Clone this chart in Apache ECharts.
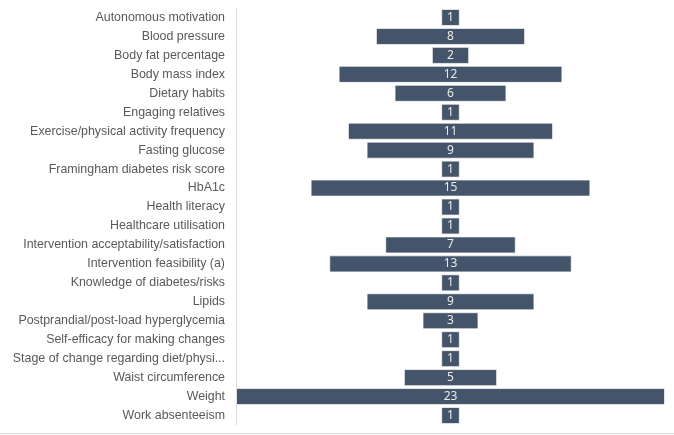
<!DOCTYPE html>
<html>
<head>
<meta charset="utf-8">
<script src="https://cdn.jsdelivr.net/npm/echarts@6/dist/echarts.min.js"></script>
<style>
html, body { margin: 0; padding: 0; background: #fff; }
#chart { width: 674px; height: 435px; }
</style>
</head>
<body>
<div id="chart"></div>
<script>
const categories = [
	'Autonomous motivation',
	'Blood pressure',
	'Body fat percentage',
	'Body mass index',
	'Dietary habits',
	'Engaging relatives',
	'Exercise/physical activity frequency',
	'Fasting glucose',
	'Framingham diabetes risk score',
	'HbA1c',
	'Health literacy',
	'Healthcare utilisation',
	'Intervention acceptability/satisfaction',
	'Intervention feasibility (a)',
	'Knowledge of diabetes/risks',
	'Lipids',
	'Postprandial/post-load hyperglycemia',
	'Self-efficacy for making changes',
	'Stage of change regarding diet/physical activity',
	'Waist circumference',
	'Weight',
	'Work absenteeism'
]
const counts = [1, 8, 2, 12, 6, 1, 11, 9, 1, 15, 1, 1, 7, 13, 1, 9, 3, 1, 1, 5, 23, 1]

const maxCount = Math.max(...counts)
// transparent offset so each bar sits centred
const offsets = counts.map(v => (maxCount - v) / 2)

const myChart = echarts.init(document.getElementById('chart'))
const option = {
	animation: false,
	grid: {
		top: 8,
		bottom: 10,
		left: 236,
		right: 9,
		containLabel: false
	},
	xAxis: {
		type: 'value',
		min: 0,
		max: maxCount,
		show: false
	},
	yAxis: {
		type: 'category',
		inverse: true,
		data: categories,
		axisLine: { show: true, lineStyle: { color: '#d9d9d9', width: 1 } },
		axisTick: { show: false },
		axisLabel: {
			margin: 11,
			color: '#595959',
			fontSize: 12.4,
			fontFamily: 'Liberation Sans, Arial, sans-serif',
			width: 218,
			overflow: 'truncate',
			ellipsis: '...'
		}
	},
	series: [
		{
			name: 'offset',
			type: 'bar',
			stack: 'total',
			silent: true,
			itemStyle: { color: 'transparent' },
			data: offsets
		},
		{
			name: 'Count',
			type: 'bar',
			stack: 'total',
			barWidth: '90%',
			itemStyle: {
				color: '#44546a',
				borderColor: 'rgba(255,255,255,0.7)',
				borderWidth: 1
			},
			label: {
				show: true,
				position: 'inside',
				color: '#eaeaea',
				fontSize: 12,
				fontFamily: 'Noto Sans, sans-serif'
			},
			data: counts
		}
	],
	graphic: [
		{
			type: 'line',
			shape: { x1: 0, y1: 433.5, x2: 674, y2: 433.5 },
			style: { stroke: '#d9d9d9', lineWidth: 1 }
		}
	]
}
myChart.setOption(option)
</script>
</body>
</html>
